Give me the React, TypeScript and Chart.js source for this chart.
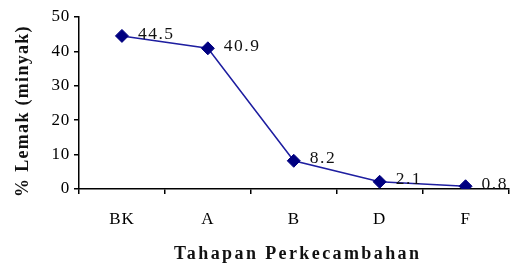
import { useEffect, useRef } from 'react';
import { Chart, registerables } from 'chart.js';

Chart.register(...registerables);

const categories = ['BK', 'A', 'B', 'D', 'F'];
const fatValues = [44.5, 40.9, 8.2, 2.1, 0.8];
const valueLabels = ['44.5', '40.9', '8.2', '2.1', '0.8'];
const yTicks = [0, 10, 20, 30, 40, 50];
const yTitle = '% Lemak (minyak)';
const xTitle = 'Tahapan Perkecambahan';

const FAMILY = '"Liberation Serif", "Times New Roman", Times, serif';

export default function App() {
  const ref = useRef<HTMLCanvasElement | null>(null);

  useEffect(() => {
    if (!ref.current) return;
    let chart: Chart | null = null;
    let cancelled = false;

    const overlay = {
      id: 'overlay',
      beforeDraw(c: any) {
        c.ctx.letterSpacing = '0.8px';
      },
      afterDatasetsDraw(c: any) {
        const ctx = c.ctx as CanvasRenderingContext2D;
        const meta = c.getDatasetMeta(0);
        ctx.save();
        (ctx as any).letterSpacing = '1.5px';
        ctx.font = `17.5px ${FAMILY}`;
        ctx.fillStyle = '#111111';
        ctx.textAlign = 'left';
        ctx.textBaseline = 'middle';
        meta.data.forEach((pt: any, i: number) => {
          ctx.fillText(valueLabels[i], pt.x + 16, pt.y - 2);
        });
        ctx.restore();
      },
      afterDraw(c: any) {
        const ctx = c.ctx as CanvasRenderingContext2D;
        const ca = c.chartArea;
        ctx.save();
        ctx.fillStyle = '#111111';
        ctx.font = `bold 18px ${FAMILY}`;
        (ctx as any).letterSpacing = '2.4px';
        ctx.textAlign = 'center';
        ctx.textBaseline = 'alphabetic';
        ctx.fillText(xTitle, (ca.left + ca.right) / 2 + 4, 259);
        (ctx as any).letterSpacing = '1.3px';
        ctx.translate(23, (ca.top + ca.bottom) / 2 + 8);
        ctx.rotate(-Math.PI / 2);
        ctx.textBaseline = 'middle';
        ctx.fillText(yTitle, 0, 0);
        ctx.restore();
      },
    };

    const build = () => {
      if (cancelled || !ref.current) return;
      chart = new Chart(ref.current, {
        type: 'line',
        data: {
          labels: categories,
          datasets: [
            {
              data: fatValues,
              borderColor: '#1e1ea0',
              borderWidth: 1.5,
              backgroundColor: '#000080',
              pointBackgroundColor: '#000080',
              pointBorderColor: '#000080',
              pointStyle: 'rectRot',
              pointRadius: 6.5,
              pointBorderWidth: 1,
              tension: 0,
            },
          ],
        },
        options: {
          animation: false,
          responsive: true,
          maintainAspectRatio: false,
          layout: { padding: { top: 17, left: 0, right: -3, bottom: 0 } },
          plugins: {
            legend: { display: false },
            tooltip: { enabled: false },
            title: { display: false },
          },
          scales: {
            x: {
              type: 'category',
              offset: true,
              afterFit: (scale: any) => {
                scale.height = 77;
              },
              border: { display: true, color: '#000000', width: 1.5 },
              grid: {
                display: true,
                offset: true,
                drawOnChartArea: false,
                drawTicks: true,
                tickLength: 5,
                color: '#000000',
                lineWidth: 1.5,
              },
              ticks: {
                color: '#000000',
                font: { family: FAMILY, size: 17 },
                padding: 15,
                maxRotation: 0,
              },
            },
            y: {
              min: 0,
              max: 50,
              afterBuildTicks: (scale: any) => {
                scale.ticks = yTicks.map((v) => ({ value: v }));
              },
              afterFit: (scale: any) => {
                scale.width = 79;
              },
              border: { display: true, color: '#000000', width: 1.5 },
              grid: {
                display: true,
                drawOnChartArea: false,
                drawTicks: true,
                tickLength: 5,
                color: '#000000',
                lineWidth: 1.5,
              },
              ticks: {
                color: '#000000',
                font: { family: FAMILY, size: 17 },
                padding: 4,
              },
            },
          },
        },
        plugins: [overlay],
      });
    };

    const fonts = (document as any).fonts;
    if (fonts && fonts.load) {
      Promise.all([
        fonts.load(`16px "Liberation Serif"`),
        fonts.load(`bold 16px "Liberation Serif"`),
      ]).then(build, build);
    } else {
      build();
    }

    return () => {
      cancelled = true;
      if (chart) chart.destroy();
    };
  }, []);

  return (
    <div style={{ position: 'fixed', left: 0, top: 0, width: 516, height: 266, background: '#ffffff' }}>
      <canvas ref={ref} />
    </div>
  );
}
